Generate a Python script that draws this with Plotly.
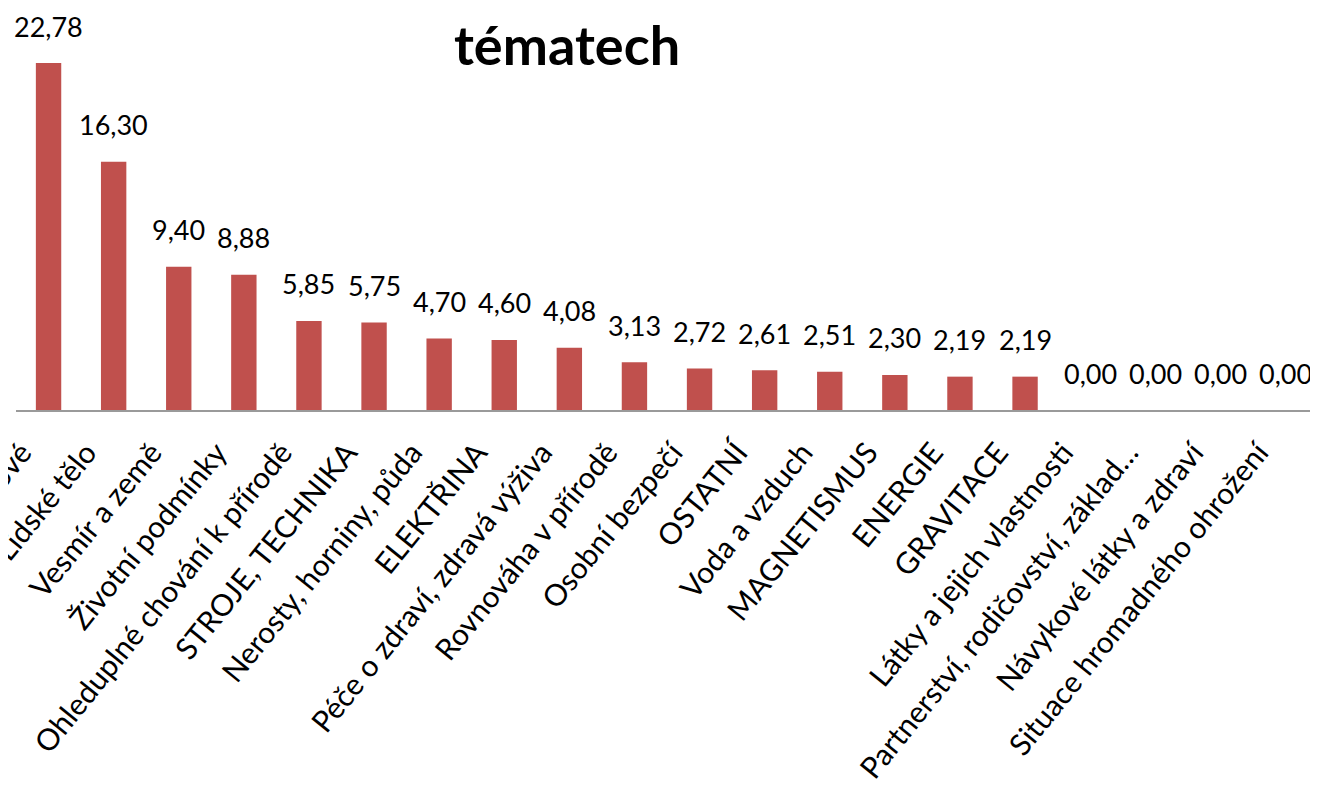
import plotly.graph_objects as go

categories = [
    "Rostliny a živočichové", "Lidské tělo", "Vesmír a země", "Životní podmínky",
    "Ohleduplné chování k přírodě", "STROJE, TECHNIKA", "Nerosty, horniny, půda",
    "ELEKTŘINA", "Péče o zdraví, zdravá výživa", "Rovnováha v přírodě",
    "Osobní bezpečí", "OSTATNÍ", "Voda a vzduch", "MAGNETISMUS", "ENERGIE",
    "GRAVITACE", "Látky a jejich vlastnosti", "Partnerství, rodičovství, základ…",
    "Návykové látky a zdraví", "Situace hromadného ohrožení",
]
values = [22.78, 16.30, 9.40, 8.88, 5.85, 5.75, 4.70, 4.60, 4.08, 3.13,
          2.72, 2.61, 2.51, 2.30, 2.19, 2.19, 0.00, 0.00, 0.00, 0.00]
title_text = "tématech"

FONT = "Lato"
W, H = 1310, 780  # page adds 8px body margin
fig = go.Figure()
fig.add_trace(go.Bar(x=categories, y=values, marker_color="#C0504D",
                     marker_line_width=0))

for c, v in zip(categories, values):
    fig.add_annotation(x=c, y=v, text=f"{v:.2f}".replace(".", ","),
                       showarrow=False, yshift=37,
                       font=dict(family=FONT, size=27, color="#000000"))

fig.add_annotation(xref="paper", yref="paper", x=0.423, y=0.908,
                   text=f"<b>{title_text}</b>", showarrow=False,
                   font=dict(family=FONT, size=54, color="#000"),
                   xanchor="center", yanchor="middle")

fig.update_layout(
    width=W, height=H,
    margin=dict(l=8, r=0, t=0, b=378),
    paper_bgcolor="white", plot_bgcolor="white",
    bargap=0.61, showlegend=False,
    xaxis=dict(range=[-0.5, 19.5], tickangle=-51, showgrid=False,
               showline=True, linecolor="#9a9a9a", linewidth=2,
               ticks="", tickfont=dict(family=FONT, size=30, color="#000"),
               ticklabelshift=-27, ticklabelstandoff=11,
               automargin=False),
    yaxis=dict(range=[0, 26.4], visible=False, showgrid=False, automargin=False),
)
fig.write_html("out.html")
